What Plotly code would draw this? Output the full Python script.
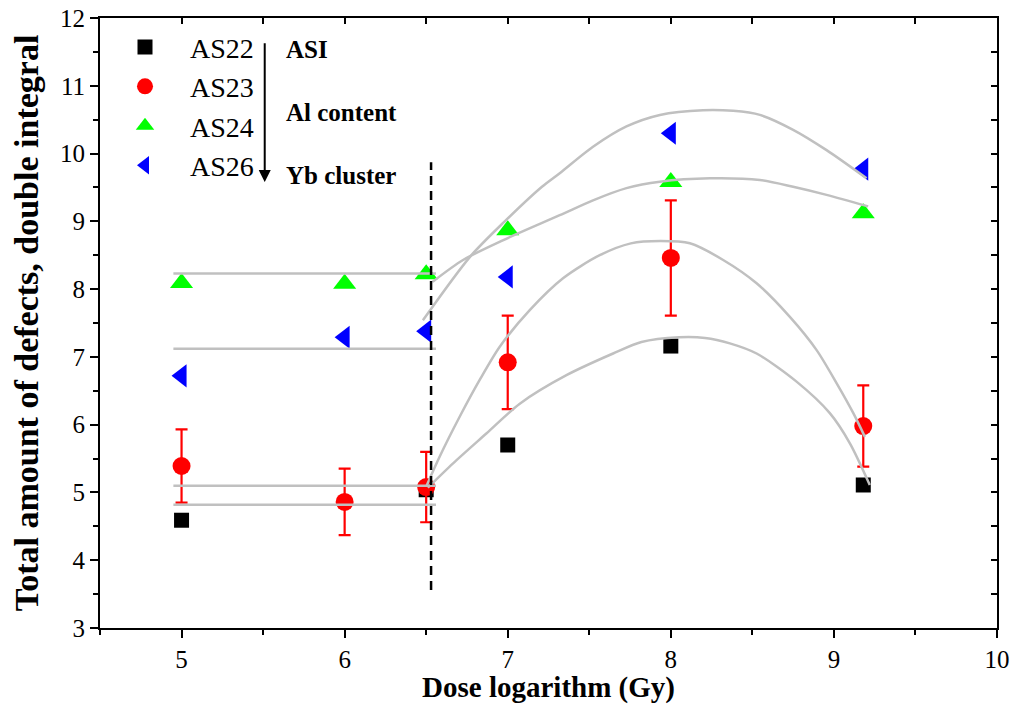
import plotly.graph_objects as go

# ---- data ----
x_as22 = [5, 6.5, 7, 8, 9.18]
y_as22 = [4.59, 5.04, 5.70, 7.16, 5.11]

x_pts = [5, 6, 6.5, 7, 8, 9.18]
y_as23 = [5.39, 4.86, 5.08, 6.92, 8.46, 5.98]
err_as23 = [0.54, 0.49, 0.52, 0.69, 0.85, 0.60]
y_as24 = [8.09, 8.08, 8.22, 8.87, 9.58, 9.12]
y_as26 = [6.72, 7.29, 7.38, 8.18, 10.30, 9.77]

# horizontal fit levels (low-dose region)
flat_x = [4.95, 6.56]
flat_as22 = [4.82, 4.82]
flat_as23 = [5.10, 5.10]
flat_as24 = [8.23, 8.23]
flat_as26 = [7.12, 7.12]

# fitted curves (high-dose region)
fit26_x = [6.48, 6.77, 6.98, 7.21, 7.319, 7.523, 7.728, 7.933, 8.198, 8.382, 8.546, 8.75, 8.955, 9.20]
fit26_y = [7.54, 8.48, 8.995, 9.51, 9.71, 10.10, 10.40, 10.57, 10.64, 10.63, 10.57, 10.35, 10.05, 9.635]

fit24_x = [6.54, 6.726, 6.97, 7.319, 7.523, 7.728, 7.933, 8.24, 8.546, 8.75, 8.955, 9.21]
fit24_y = [8.11, 8.43, 8.72, 9.09, 9.31, 9.49, 9.585, 9.635, 9.61, 9.51, 9.39, 9.22]

fit23_x = [6.50, 6.583, 6.706, 6.828, 6.951, 7.135, 7.339, 7.564, 7.755, 7.936, 8.117, 8.321, 8.526, 8.73, 8.894, 9.017, 9.119, 9.19]
fit23_y = [5.085, 5.53, 6.12, 6.66, 7.15, 7.69, 8.16, 8.50, 8.675, 8.71, 8.676, 8.43, 8.086, 7.59, 7.10, 6.61, 6.17, 5.82]

fit22_x = [6.51, 6.665, 6.869, 7.074, 7.36, 7.646, 7.82, 8.05, 8.21, 8.362, 8.526, 8.771, 8.975, 9.098, 9.22]
fit22_y = [5.07, 5.43, 5.87, 6.31, 6.73, 7.05, 7.22, 7.29, 7.28, 7.20, 7.05, 6.635, 6.17, 5.725, 5.11]

# dashed divider
divider_x = 6.53
divider_y = [3.56, 9.87]

# annotations
ann_arrow_x = 5.51
ann_arrow_y = [11.65, 9.58]
ann_labels = ["ASI", "Al content", "Yb cluster"]
ann_label_y = [11.53, 10.60, 9.68]
ann_label_x = 5.63

SERIF = "Liberation Serif, Times New Roman, serif"
GRAY = "#c0c0c0"

fig = go.Figure()

fig.add_trace(go.Scatter(x=x_as22, y=y_as22, mode="markers", name="AS22",
                         legendgroup="a",
                         marker=dict(symbol="square", size=15, color="black")))
fig.add_trace(go.Scatter(x=x_pts, y=y_as23, mode="markers", name="AS23",
                         legendgroup="b",
                         marker=dict(symbol="circle", size=18, color="#ff0000"),
                         error_y=dict(type="data", array=err_as23, color="#ff0000",
                                      thickness=2.2, width=6)))
fig.add_trace(go.Scatter(x=x_pts, y=y_as24, mode="markers", name="AS24",
                         legendgroup="c",
                         marker=dict(symbol="triangle-up", size=20, color="#00ff00")))
fig.add_trace(go.Scatter(x=x_pts, y=y_as26, mode="markers", name="AS26",
                         legendgroup="d",
                         marker=dict(symbol="triangle-left", size=20, color="#0000ff")))

for fy in [flat_as22, flat_as23, flat_as24, flat_as26]:
    fig.add_trace(go.Scatter(x=flat_x, y=fy, mode="lines", line=dict(color=GRAY, width=2.5),
                             showlegend=False, hoverinfo="skip"))
for fx, fy in [(fit22_x, fit22_y), (fit23_x, fit23_y), (fit24_x, fit24_y), (fit26_x, fit26_y)]:
    fig.add_trace(go.Scatter(x=fx, y=fy, mode="lines",
                             line=dict(color=GRAY, width=2.5, shape="spline", smoothing=0.8),
                             showlegend=False, hoverinfo="skip"))

# empty trace so the mirrored (top/right) axes are drawn
fig.add_trace(go.Scatter(x=[], y=[], xaxis="x2", yaxis="y2", showlegend=False, hoverinfo="skip"))

fig.add_shape(type="line", xref="x", yref="y", x0=divider_x, x1=divider_x,
              y0=divider_y[0], y1=divider_y[1],
              line=dict(color="black", width=2.5, dash="9px,6px"))

fig.add_annotation(x=ann_arrow_x, y=ann_arrow_y[1], ax=ann_arrow_x, ay=ann_arrow_y[0],
                   xref="x", yref="y", axref="x", ayref="y", text="",
                   showarrow=True, arrowhead=2, arrowsize=1.2, arrowwidth=2, arrowcolor="black")
for lab, ly in zip(ann_labels, ann_label_y):
    fig.add_annotation(x=ann_label_x, y=ly, xref="x", yref="y", text="<b>%s</b>" % lab,
                       showarrow=False, xanchor="left", yanchor="middle",
                       font=dict(family=SERIF, size=25, color="black"))

axis_common = dict(showgrid=False, zeroline=False, showline=True, linecolor="black",
                   linewidth=2, ticks="outside", ticklen=8, tickwidth=1.8, tickcolor="black",
                   automargin=False,
                   tickfont=dict(family=SERIF, size=25, color="black"))

fig.update_layout(
    template="none",
    width=1011, height=704,
    margin=dict(l=100, r=14, t=18, b=76, autoexpand=False),
    paper_bgcolor="white", plot_bgcolor="white",
    showlegend=True,
    legend=dict(x=0.0, y=0.993, xanchor="left", yanchor="top",
                bgcolor="rgba(0,0,0,0)", tracegroupgap=0, itemwidth=80,
                font=dict(family=SERIF, size=28, color="black"),
                itemsizing="trace"),
    xaxis=dict(range=[4.5, 10], tick0=5, dtick=1,
               minor=dict(dtick=0.5, ticks="outside", ticklen=5, tickwidth=1.5, tickcolor="black"),
               title=dict(text="<b>Dose logarithm (Gy)</b>", standoff=7,
                          font=dict(family=SERIF, size=29, color="black")),
               **axis_common),
    yaxis=dict(range=[3, 12], tick0=3, dtick=1,
               minor=dict(dtick=0.5, ticks="outside", ticklen=5, tickwidth=1.5, tickcolor="black"),
               title=dict(text="<b>Total amount of defects, double integral</b>", standoff=11,
                          font=dict(family=SERIF, size=34, color="black")),
               **axis_common),
    xaxis2=dict(range=[4.5, 10], overlaying="x", side="top", anchor="y", showgrid=False,
                zeroline=False, showline=True, linecolor="black", linewidth=2, automargin=False,
                ticks="inside", ticklen=6, tickwidth=1.5, tickcolor="black",
                tick0=5, dtick=0.5, showticklabels=False),
    yaxis2=dict(range=[3, 12], overlaying="y", side="right", anchor="x", showgrid=False,
                zeroline=False, showline=True, linecolor="black", linewidth=2, automargin=False,
                ticks="inside", ticklen=6, tickwidth=1.5, tickcolor="black",
                tick0=3, dtick=0.5, showticklabels=False),
)

fig.write_html("out.html", config={"displayModeBar": False},
               post_script="document.body.style.margin='0';document.body.style.overflow='hidden';")
